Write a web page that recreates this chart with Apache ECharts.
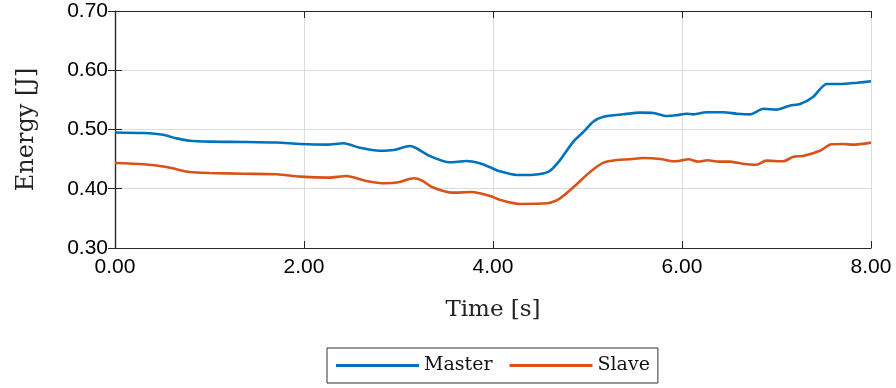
<!DOCTYPE html>
<html>
<head>
<meta charset="utf-8">
<script src="https://cdn.jsdelivr.net/npm/echarts@6/dist/echarts.min.js"></script>
<style>html,body{margin:0;padding:0;background:#fff}#c{width:896px;height:388px}</style>
</head>
<body>
<div id="c"></div>
<script>
const masterTime = [0.00,0.30,0.51,0.65,0.79,1.00,1.36,1.71,1.96,2.24,2.42,2.59,2.80,2.95,3.12,3.19,3.33,3.54,3.72,3.86,3.97,4.07,4.25,4.43,4.59,4.71,4.85,4.96,5.06,5.17,5.38,5.56,5.70,5.84,5.94,6.05,6.12,6.26,6.44,6.58,6.72,6.86,7.00,7.14,7.25,7.39,7.53,7.67,7.85,8.00];
const masterEnergy = [0.495,0.494,0.491,0.485,0.481,0.4795,0.479,0.478,0.4755,0.4744,0.4767,0.4693,0.4642,0.4654,0.4722,0.4683,0.4553,0.4446,0.4468,0.4429,0.4362,0.4295,0.4232,0.4237,0.4288,0.4485,0.4795,0.4963,0.5132,0.5216,0.5257,0.5284,0.5279,0.5228,0.524,0.5267,0.5256,0.529,0.529,0.5267,0.5256,0.5351,0.5335,0.5402,0.543,0.5554,0.5768,0.5768,0.579,0.5813];
const slaveTime = [0.00,0.30,0.53,0.65,0.79,1.00,1.36,1.71,1.96,2.26,2.45,2.65,2.86,3.00,3.16,3.25,3.36,3.57,3.78,3.86,3.97,4.07,4.29,4.57,4.71,4.85,5.03,5.17,5.31,5.45,5.59,5.77,5.91,5.98,6.07,6.17,6.27,6.39,6.50,6.64,6.79,6.89,7.07,7.18,7.28,7.46,7.58,7.71,7.81,8.00];
const slaveEnergy = [0.4435,0.4413,0.4372,0.4328,0.4283,0.4266,0.4254,0.4244,0.4204,0.4187,0.4215,0.4136,0.4092,0.4109,0.4176,0.4136,0.4025,0.3934,0.3945,0.3923,0.3878,0.3816,0.3743,0.3754,0.3839,0.4024,0.4288,0.444,0.4485,0.4497,0.4519,0.4502,0.4463,0.4474,0.4497,0.4457,0.448,0.4457,0.4457,0.4423,0.4406,0.4474,0.4463,0.4541,0.4553,0.4642,0.475,0.4755,0.4744,0.4778];
const seriesNames = ['Master','Slave'];
const xTicks = {min:0, max:8, interval:2};
const yTicks = {min:0.3, max:0.7, interval:0.1};

const axisColor = '#262626';
const serif = 'DejaVu Serif';
const sans = 'Liberation Sans';

const chart = echarts.init(document.getElementById('c'));
const pairs = (t, v) => t.map((x, i) => [x, v[i]]);
const tickStyle = {show:true, inside:true, length:7, lineStyle:{color:axisColor, width:1}};
chart.setOption({
  animation:false,
  grid:{left:115, right:25, top:11, bottom:140, containLabel:false},
  legend:{
    left:327, top:348,
    padding:[7,8,7,9],
    itemGap:17,
    itemWidth:83, itemHeight:3,
    icon:'rect',
    borderColor:'#333', borderWidth:1,
    textStyle:{fontFamily:serif, fontSize:19, color:'#111', lineHeight:21},
    data:seriesNames
  },
  xAxis:[{
    type:'value', min:xTicks.min, max:xTicks.max, interval:xTicks.interval,
    name:'Time [s]', nameLocation:'middle', nameGap:51,
    nameTextStyle:{fontFamily:serif, fontSize:23, color:'#222'},
    axisLine:{show:true, lineStyle:{color:axisColor, width:1.2}},
    axisTick:tickStyle,
    axisLabel:{fontFamily:sans, fontSize:21, color:'#000', margin:9, formatter:v=>v.toFixed(2)},
    splitLine:{show:true, lineStyle:{color:'#dcdcdc', width:1}}
  },{
    type:'value', position:'top', min:xTicks.min, max:xTicks.max, interval:xTicks.interval,
    axisLine:{show:true, lineStyle:{color:axisColor, width:1.2}},
    axisTick:tickStyle, axisLabel:{show:false}, splitLine:{show:false}
  }],
  yAxis:[{
    type:'value', min:yTicks.min, max:yTicks.max, interval:yTicks.interval,
    name:'Energy [J]', nameLocation:'middle', nameGap:76,
    nameTextStyle:{fontFamily:serif, fontSize:24, color:'#222'},
    axisLine:{show:true, lineStyle:{color:axisColor, width:1.2}},
    axisTick:tickStyle,
    axisLabel:{fontFamily:sans, fontSize:21, color:'#000', margin:7, formatter:v=>v.toFixed(2)},
    splitLine:{show:true, lineStyle:{color:'#dcdcdc', width:1}}
  },{
    type:'value', position:'right', min:yTicks.min, max:yTicks.max, interval:yTicks.interval,
    axisLine:{show:true, lineStyle:{color:axisColor, width:1.2}},
    axisTick:tickStyle, axisLabel:{show:false}, splitLine:{show:false}
  }],
  series:[{
    name:seriesNames[0], type:'line', data:pairs(masterTime, masterEnergy),
    showSymbol:false, symbol:'none', smooth:0.25,
    itemStyle:{color:'#0072BD'}, lineStyle:{color:'#0072BD', width:2.6}
  },{
    name:seriesNames[1], type:'line', data:pairs(slaveTime, slaveEnergy),
    showSymbol:false, symbol:'none', smooth:0.25,
    itemStyle:{color:'#D95319'}, lineStyle:{color:'#D95319', width:2.6}
  }]
});
</script>
</body>
</html>
